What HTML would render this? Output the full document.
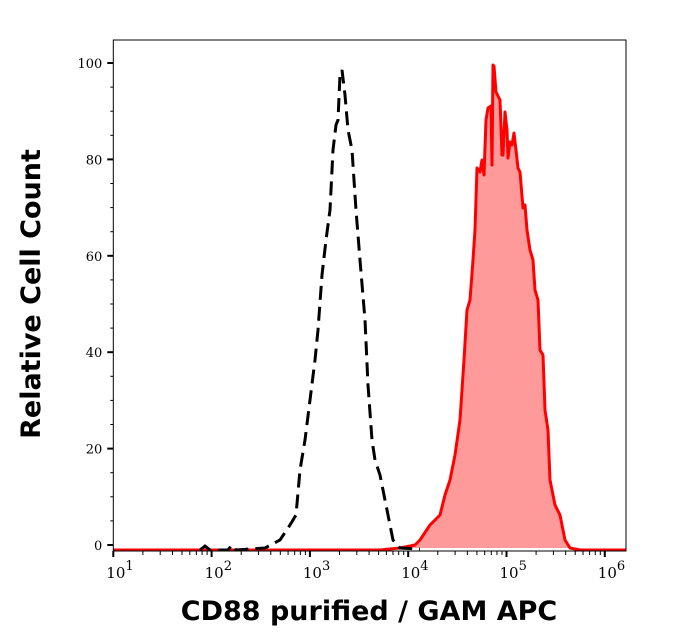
<!DOCTYPE html>
<html><head><meta charset="utf-8"><style>
body{margin:0;background:#fff;width:697px;height:641px;overflow:hidden}
svg{display:block}
text{font-family:"DejaVu Serif","Liberation Serif",serif}
</style></head><body>
<svg id="chart" width="697" height="641"></svg>
<script>
const ctrlX=[200,205,210,228,232,236,265,280,290,296,300,305,310,315,318,322,326,330,333,336,338,340,342,345,348,352,356,360,365,368,372,375,380,385,390,393,400,420];
const ctrlY=[550,546,550,550,545,550,548,540,525,515,470,440,400,360,330,275,240,210,150,125,120,75,70,95,130,150,210,260,320,385,440,460,475,500,525,540,548,549];
const redX=[113,380,400,415,420,430,440,445,450,455,460,464,467,470,473,475,477,480,482,484,486,488,491,492,493,494,496,498,500,502,503,505,507,508,510,512,514,516,518,520,523,525,527,530,533,535,538,540,543,545,548,550,555,560,565,570,580,626];
const redY=[550,550,548,545,540,525,515,495,480,455,420,360,310,300,260,230,168,172,160,175,120,108,106,165,65,66,92,96,100,155,155,112,130,158,142,145,133,150,168,172,208,205,230,250,260,290,300,350,355,410,430,480,505,515,540,548,550,550];
const yTicks=[0,20,40,60,80,100];
const xDecades=[1,2,3,4,5,6];

const L=113.3,R=626,T=40,B=551;
const X=l=>L+(l-1)*98.3;
const Y=v=>545-v*4.82;
const pxToLog=px=>(px-L)/98.3+1;
const pxToVal=py=>(545-py)/4.82;
const ctrl=ctrlX.map((x,i)=>[pxToLog(x),pxToVal(ctrlY[i])]);
const iso=redX.map((x,i)=>[pxToLog(x),pxToVal(redY[i])]);

const NS="http://www.w3.org/2000/svg";
const svg=document.getElementById('chart');
function mk(tag,attrs,parent){const e=document.createElementNS(NS,tag);for(const k in attrs)e.setAttribute(k,attrs[k]);(parent||svg).appendChild(e);return e;}

const isoPts=iso.map(p=>X(p[0]).toFixed(1)+','+Y(p[1]).toFixed(1)).join(' ');
const fillPts=iso.filter(p=>X(p[0])>=398&&X(p[0])<=575);
const fill=mk('polygon',{points:fillPts.map(p=>X(p[0]).toFixed(1)+','+Y(p[1]).toFixed(1)).join(' '),fill:'#ff9a9a',stroke:'none'});


const line=mk('polyline',{points:isoPts,fill:'none',stroke:'#ff0000','stroke-width':3,'stroke-linejoin':'round'});


const cl=mk('polyline',{points:ctrl.map(p=>X(p[0]).toFixed(1)+','+Y(p[1]).toFixed(1)).join(' '),fill:'none',stroke:'#000','stroke-width':3,'stroke-dasharray':'14,7'});



const frame=mk('rect',{x:L,y:T,width:R-L,height:B-T,fill:'none',stroke:'#000','stroke-width':1});



yTicks.forEach(v=>{
  const y=Y(v);
  const t=mk('line',{x1:L-6,x2:L,y1:y,y2:y,stroke:'#000','stroke-width':2});
  
  
  const tx=mk('text',{x:L-11,y:y+5,'text-anchor':'end','font-size':13});
  tx.textContent=v;
  
  
});
for(let v=5;v<100;v+=5){if(v%20===0)continue;const m=mk('line',{x1:L-3,x2:L,y1:Y(v),y2:Y(v),stroke:'#000'});}

xDecades.forEach(d=>{
  const x=X(d);
  const t=mk('line',{x1:x,x2:x,y1:B,y2:B+6,stroke:'#000','stroke-width':2});
  
  
  const tx=mk('text',{x:x-7,y:B+27,'font-size':15});
  tx.textContent='10';
  
  
  const s=mk('tspan',{dy:-8,'font-size':13},tx);s.textContent=d;
  if(d<6)for(let k=2;k<10;k++){const mx=X(d+Math.log10(k));const m=mk('line',{x1:mx,x2:mx,y1:B,y2:B+4,stroke:'#000'});}
});

const xt=mk('text',{x:369,y:620,'text-anchor':'middle','font-size':27,'font-weight':'bold',style:'font-family:"DejaVu Sans","Liberation Sans",sans-serif'});
xt.textContent='CD88 purified / GAM APC';


const yt=mk('text',{x:0,y:0,'text-anchor':'middle','font-size':27,'font-weight':'bold',transform:'translate(40,294) rotate(-90)',style:'font-family:"DejaVu Sans","Liberation Sans",sans-serif'});
yt.textContent='Relative Cell Count';


</script>
</body></html>
